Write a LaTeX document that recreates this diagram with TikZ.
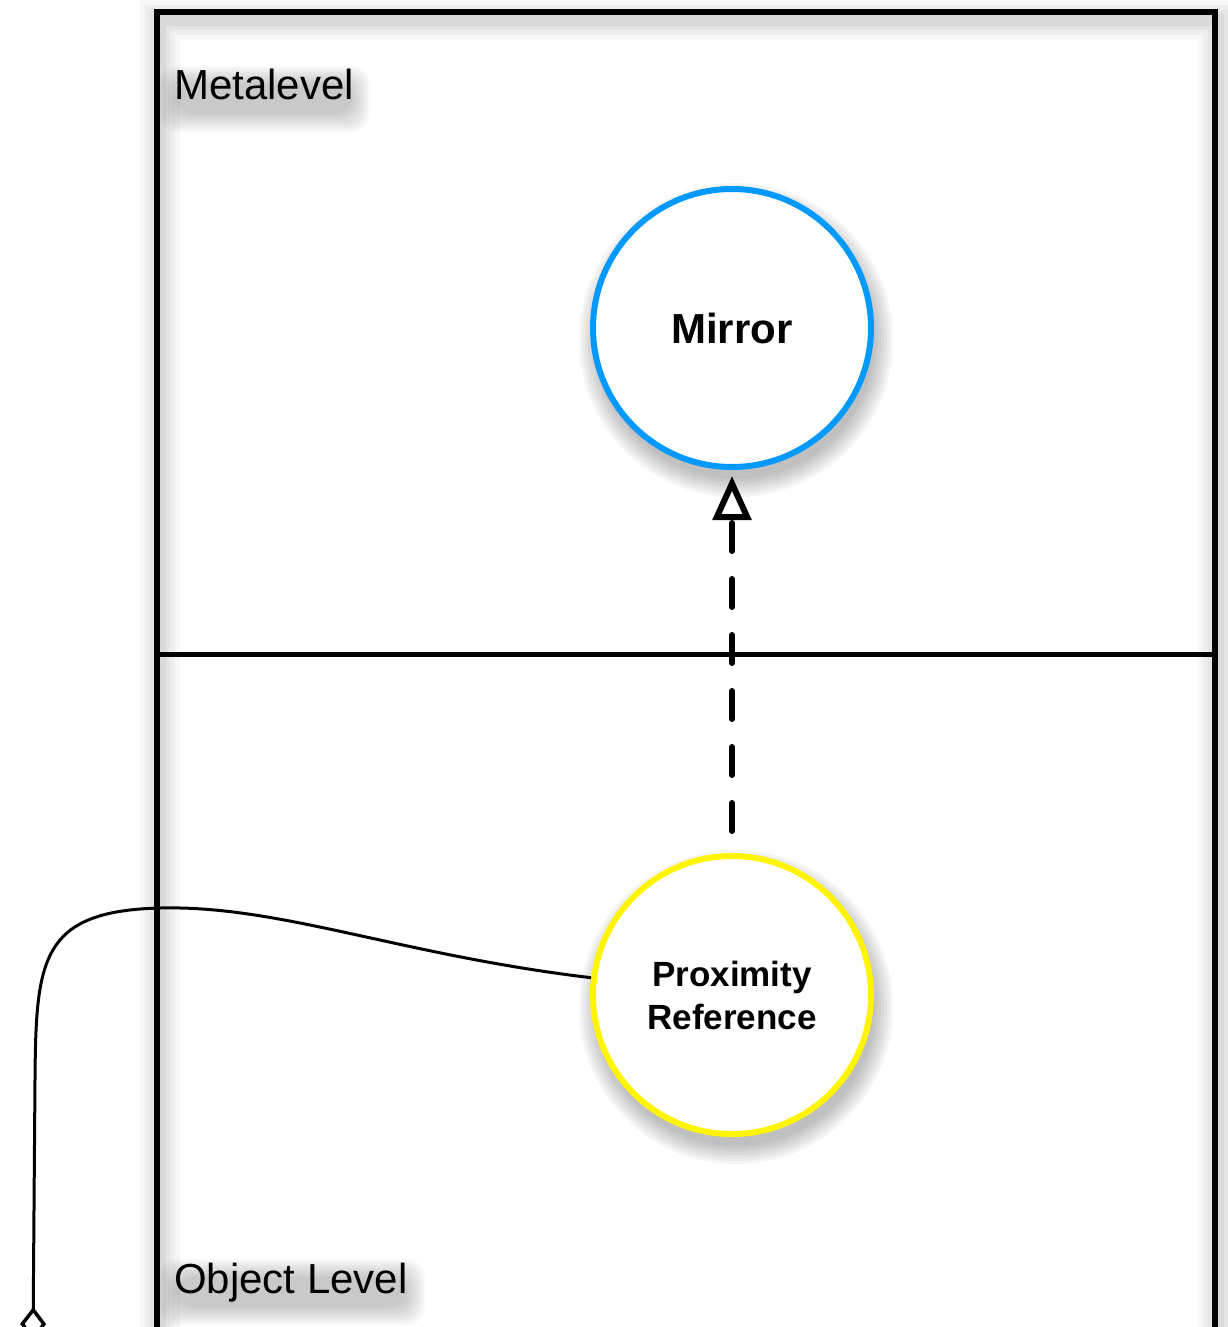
\documentclass[tikz,border=0pt]{standalone}
\usepackage{fontspec}
\setmainfont{Liberation Sans}
\usetikzlibrary{arrows.meta}
\definecolor{mirrorblue}{RGB}{0,153,255}
\definecolor{proxyellow}{RGB}{255,245,0}
\tikzset{
  framepen/.style={line width=6pt, draw=black},
  levellabel/.style={anchor=base west, inner sep=0pt, font=\fontsize{42}{50}\selectfont},
  roleball/.style={circle, line width=6pt, fill=white, minimum size=278pt, inner sep=0pt, align=center},
  dashlink/.style={line width=6pt, line cap=round, dash pattern=on 28pt off 28pt,
     -{Triangle[open, length=44pt, width=38pt, line width=6pt]}},
  tielink/.style={line width=3pt, -{Diamond[open, length=34pt, width=26pt, line width=3.5pt]}},
}
\begin{document}
\begin{tikzpicture}[x=1pt,y=-1pt]
\useasboundingbox (0,0) rectangle (1227,1327);
% frame shadow
\foreach \w/\o in {40/0.03,30/0.035,20/0.04,12/0.05} {
  \draw[black, opacity=\o, line width=\w pt] (160,20) rectangle (1218,1360);
}
% label shadows
\foreach \k in {0,...,9} {
  \fill[black, opacity=0.025, rounded corners=18pt] (176-\k*2,76-\k*2+8) rectangle (352+\k*2,106+\k*2+8);
  \fill[black, opacity=0.025, rounded corners=18pt] (176-\k*2,1269-\k*2+8) rectangle (407+\k*2,1299+\k*2+8);
}
% circle shadows
\foreach \r in {157,154,...,139} {
  \fill[black, opacity=0.04] (736,340) circle (\r pt);
  \fill[black, opacity=0.04] (736,1007) circle (\r pt);
}
% frame
\draw[framepen] (157,12) rectangle (1215,1345);
\draw[line width=5pt] (157,654) -- (1215,654);
\node[levellabel] (meta) at (174,100) {Metalevel};
\node[levellabel] (obj) at (174,1293) {Object Level};
% circles
\node[roleball, draw=mirrorblue, font=\bfseries\fontsize{42}{50}\selectfont] (mirror) at (732,328) {Mirror};
\node[roleball, draw=proxyellow, font=\bfseries\fontsize{35}{43}\selectfont] (prox) at (732,995) {Proximity\\Reference};
% connectors
\draw[dashlink, shorten <=22pt, shorten >=6pt] (prox.north) -- (mirror.south);
\coordinate (dend) at (33,1341);
\draw[tielink] (prox.173) .. controls (400,955) and (280,905) .. (160,908)
   .. controls (40,911) and (36,960) .. (35,1080) -- (dend);
\end{tikzpicture}
\end{document}
